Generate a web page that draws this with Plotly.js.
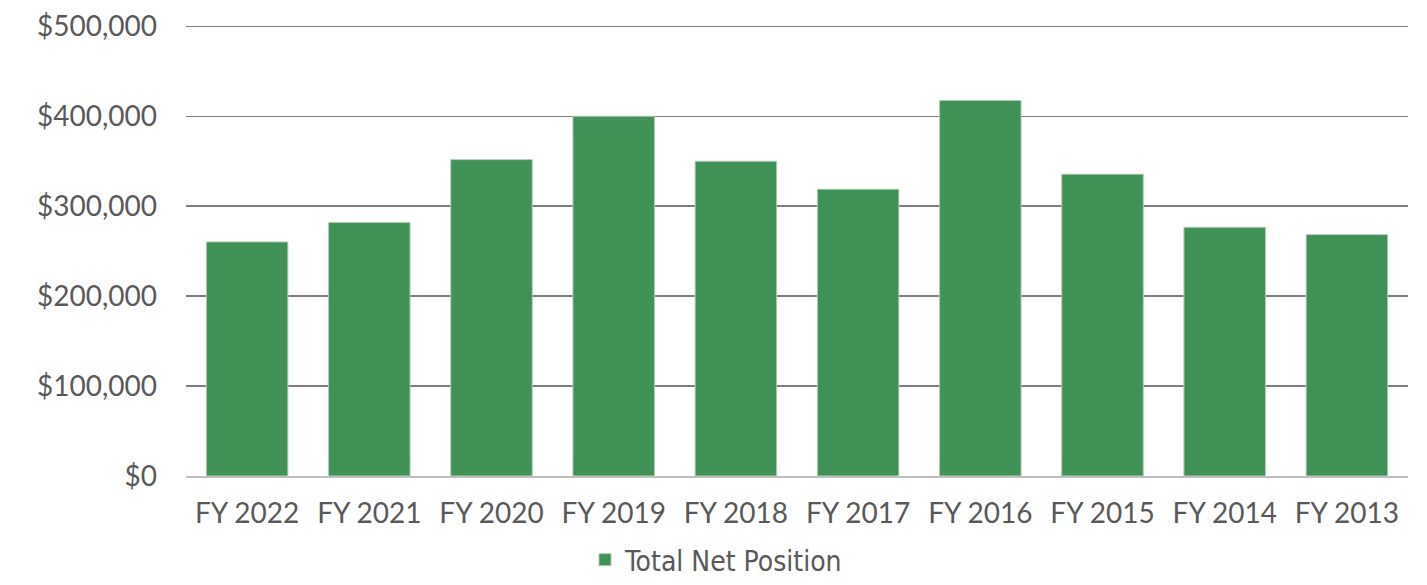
<!DOCTYPE html>
<html>
<head>
<meta charset="utf-8">
<script src="https://cdn.plot.ly/plotly-3.0.1.min.js"></script>
<style>html,body{margin:0;padding:0;background:#fff;}#chart{width:1427px;height:585px;}</style>
</head>
<body>
<div id="chart"></div>
<script>
const categories = ["FY 2022","FY 2021","FY 2020","FY 2019","FY 2018","FY 2017","FY 2016","FY 2015","FY 2014","FY 2013"];
const totalNetPosition = [260300, 281800, 351800, 400000, 350000, 318900, 417500, 335600, 276600, 268400];
const yTickValues = [0, 100000, 200000, 300000, 400000, 500000];
const yTickLabels = ["$0","$100,000","$200,000","$300,000","$400,000","$500,000"];
const seriesName = "Total Net Position";

const trace = {
  type: "bar",
  x: categories,
  y: totalNetPosition,
  name: seriesName,
  marker: {color: "#3f9155", line: {color: "#b5c9b9", width: 1}},
  hoverinfo: "x+y"
};
const layout = {
  width: 1427, height: 585,
  margin: {l: 186, r: 19, t: 25, b: 109},
  paper_bgcolor: "#ffffff", plot_bgcolor: "#ffffff",
  bargap: 0.333,
  font: {family: "Lato, 'Noto Sans', sans-serif", color: "#595959", size: 28},
  xaxis: {
    type: "category",
    automargin: false,
    showgrid: false,
    showline: true, linecolor: "#bfbfbf", linewidth: 2,
    ticks: "", tickfont: {size: 28, color: "#595959"},
    ticklabelstandoff: 11,
    zeroline: false
  },
  yaxis: {
    automargin: false,
    range: [0, 501500],
    tickvals: yTickValues, ticktext: yTickLabels,
    showgrid: true, gridcolor: "#7f7f7f", gridwidth: 1.5,
    zeroline: false, showline: false, ticks: "",
    ticklabelstandoff: 28,
    tickfont: {size: 28, color: "#595959"}
  },
  showlegend: true,
  legend: {orientation: "h", xref: "paper", x: 0.3265, xanchor: "left",
    yref: "container", y: -0.016, yanchor: "bottom",
    font: {size: 28, color: "#595959", family: "'DejaVu Sans Condensed', 'Liberation Sans', sans-serif"}}
};
Plotly.newPlot("chart", [trace], layout, {displayModeBar: false, staticPlot: true});
</script>
</body>
</html>
